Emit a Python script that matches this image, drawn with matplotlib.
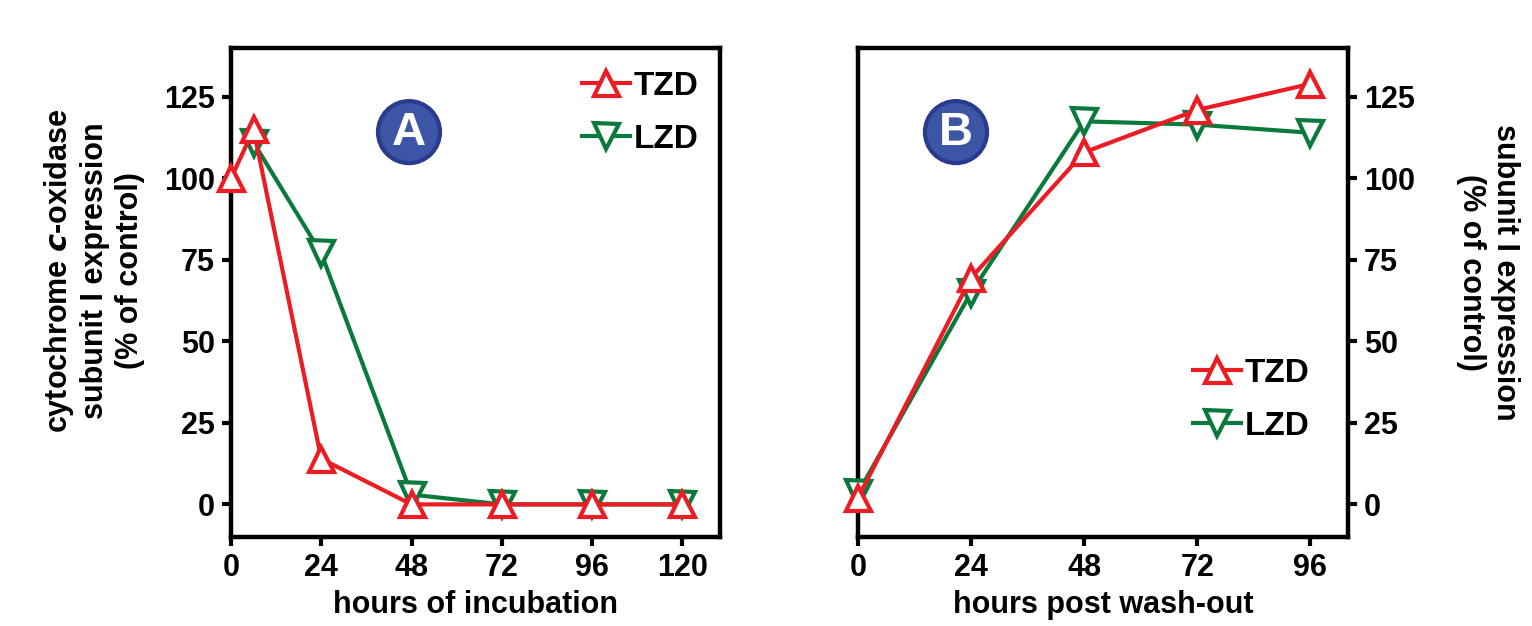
import matplotlib
matplotlib.use("Agg")
import matplotlib.pyplot as plt
from matplotlib.patches import Circle

plt.rcParams['font.family'] = ['Liberation Sans', 'DejaVu Sans']
plt.rcParams['font.weight'] = 'bold'

# ---- data ----
a_tzd_x = [0, 6, 24, 48, 72, 96, 120]
a_tzd_y = [100, 115, 14, 0, 0, 0, 0]
a_lzd_x = [6, 24, 48, 72, 96, 120]
a_lzd_y = [111, 77, 3, 0, 0, 0]

b_x = [0, 24, 48, 72, 96]
b_tzd_y = [2, 69.5, 108, 121, 129]
b_lzd_y = [3.5, 65, 117.5, 116.5, 114]

a_xticks = [0, 24, 48, 72, 96, 120]
b_xticks = [0, 24, 48, 72, 96]
yticks = [0, 25, 50, 75, 100, 125]

RED = '#EC1C24'
GREEN = '#0A7A3C'
CIRC_FC = '#3D55A5'
CIRC_EC = '#283B8C'

FS = 22
LW = 3.0
MS = 18

fig = plt.figure(figsize=(15.32, 6.26), dpi=100)
axA = fig.add_axes([231/1532, 1-537/626, 489/1532, 489/626])
axB = fig.add_axes([858/1532, 1-537/626, 490/1532, 489/626])

def style(ax):
    for s in ax.spines.values():
        s.set_linewidth(3.2)
        s.set_color('black')
    ax.tick_params(direction='out', length=6.5, width=3.0, labelsize=FS, pad=5)
    for lab in ax.get_xticklabels() + ax.get_yticklabels():
        lab.set_fontweight('bold')

# Panel A
axA.plot(a_tzd_x, a_tzd_y, color=RED, lw=LW, marker='^', ms=MS, mew=LW,
         mfc='white', mec=RED, label='TZD', zorder=4, clip_on=False)
axA.plot(a_lzd_x, a_lzd_y, color=GREEN, lw=LW, marker='v', ms=MS, mew=LW,
         mfc='white', mec=GREEN, label='LZD', zorder=3, clip_on=False)
axA.set_xlim(0, 130)
axA.set_ylim(-10, 140)
axA.set_xticks(a_xticks)
axA.set_yticks(yticks)
style(axA)
axA.set_xlabel('hours of incubation', fontsize=FS, fontweight='bold', labelpad=5)
axA.text(-0.282, 0.544,
         'cytochrome $\\mathbf{\\mathit{c}}$-oxidase\nsubunit I expression\n(% of control)',
         transform=axA.transAxes, rotation=90, ha='center', va='center',
         multialignment='center', fontsize=FS, fontweight='bold')
legA = axA.legend(loc='upper left', bbox_to_anchor=(0.718, 0.953), frameon=False,
                  fontsize=24, handlelength=1.45, handletextpad=0.1,
                  labelspacing=0.65, borderpad=0, borderaxespad=0)
for t in legA.get_texts():
    t.set_fontweight('bold')
axA.add_patch(Circle((0.364, 0.828), 0.0634, transform=axA.transAxes,
                     facecolor=CIRC_FC, edgecolor=CIRC_EC, lw=3, zorder=5))
axA.text(0.364, 0.826, 'A', transform=axA.transAxes, ha='center', va='center',
         color='white', fontsize=34, fontweight='bold', zorder=6)

# Panel B
axB.plot(b_x, b_tzd_y, color=RED, lw=LW, marker='^', ms=MS, mew=LW,
         mfc='white', mec=RED, label='TZD', zorder=4, clip_on=False)
axB.plot(b_x, b_lzd_y, color=GREEN, lw=LW, marker='v', ms=MS, mew=LW,
         mfc='white', mec=GREEN, label='LZD', zorder=3, clip_on=False)
axB.set_xlim(0, 104)
axB.set_ylim(-10, 140)
axB.set_xticks(b_xticks)
axB.set_yticks(yticks)
axB.yaxis.tick_right()
style(axB)
axB.set_xlabel('hours post wash-out', fontsize=FS, fontweight='bold', labelpad=5)
fig.text(1488/1532, 1-272/626, 'subunit I expression\n(% of control)',
         rotation=270, ha='center', va='center', multialignment='center',
         fontsize=FS, fontweight='bold')
legB = axB.legend(loc='upper left', bbox_to_anchor=(0.684, 0.366), frameon=False,
                  fontsize=24, handlelength=1.45, handletextpad=0.1,
                  labelspacing=0.65, borderpad=0, borderaxespad=0)
for t in legB.get_texts():
    t.set_fontweight('bold')
axB.add_patch(Circle((0.2, 0.828), 0.0634, transform=axB.transAxes,
                     facecolor=CIRC_FC, edgecolor=CIRC_EC, lw=3, zorder=5))
axB.text(0.2, 0.826, 'B', transform=axB.transAxes, ha='center', va='center',
         color='white', fontsize=34, fontweight='bold', zorder=6)

fig.savefig('out.png', dpi=100)
